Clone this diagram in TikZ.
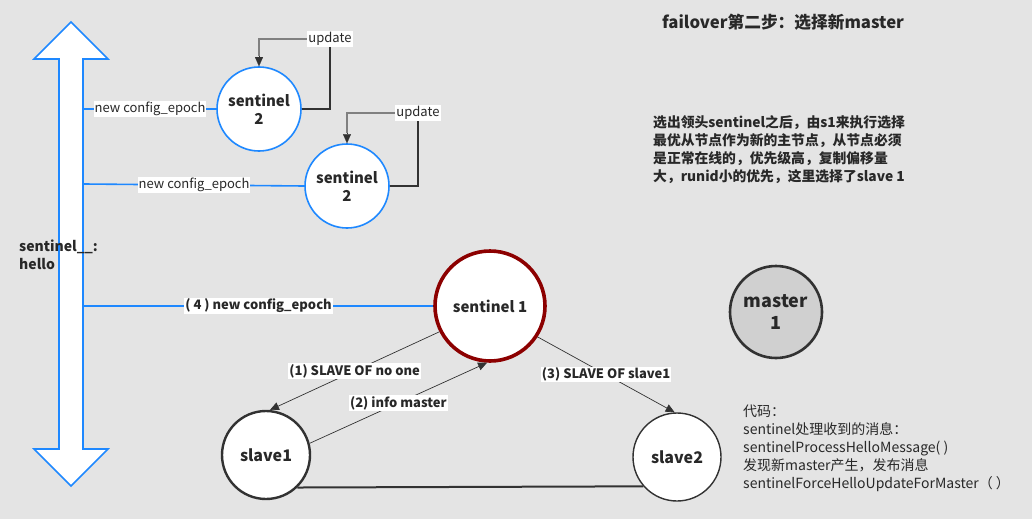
\documentclass[tikz,border=0pt]{standalone}
\usepackage{fontspec}
\setmainfont{Noto Sans CJK SC}
\usetikzlibrary{arrows.meta}
\definecolor{bg}{RGB}{228,228,228}
\definecolor{myblue}{RGB}{30,136,255}
\definecolor{dred}{RGB}{140,0,0}
\definecolor{txt}{RGB}{40,40,40}
\definecolor{ln}{RGB}{50,50,50}
\definecolor{mgray}{RGB}{208,208,208}
\tikzset{
  sentwo/.style={circle, draw=myblue, line width=1.6pt, fill=white, minimum size=84pt, inner sep=0pt, align=center, font=\fontsize{15}{18}\selectfont\bfseries, text=txt},
  sentone/.style={circle, draw=dred, line width=3.6pt, fill=white, minimum size=110pt, inner sep=0pt, font=\fontsize{15}{18}\selectfont\bfseries, text=txt},
  slavenode/.style={circle, draw=ln, fill=white, minimum size=88pt, inner sep=0pt, font=\fontsize{16}{19}\selectfont\bfseries, text=txt},
  masternode/.style={circle, draw=ln, line width=2.6pt, fill=mgray, minimum size=92pt, inner sep=0pt, align=center, font=\fontsize{18}{22}\selectfont\bfseries, text=txt},
  bluelink/.style={draw=myblue, line width=1.6pt},
  bluelabel/.style={fill=white, inner sep=1pt, text=txt, font=\fontsize{13}{15}\selectfont},
  edgelabel/.style={fill=white, inner sep=1pt, text=txt, font=\fontsize{13}{15}\selectfont\bfseries},
  arr/.style={draw=ln, line width=0.7pt, -{Triangle[length=9pt,width=8pt]}},
  updlabel/.style={fill=white, inner sep=1pt, text=txt, font=\fontsize{13}{15}\selectfont},
}
\begin{document}
\begin{tikzpicture}[x=1pt,y=-1pt]
\fill[bg] (0,0) rectangle (1032,519);
\useasboundingbox (0,0) rectangle (1032,519);

% big double arrow
\draw[myblue, line width=1.6pt, fill=white, line join=miter]
  (71,22) -- (108,59) -- (83,59) -- (83,449) -- (108,449) -- (71,486)
  -- (34,449) -- (59,449) -- (59,59) -- (34,59) -- cycle;
\coordinate (shaft) at (84,0);

% nodes
\node[sentwo] (s2a) at (259,109) {sentinel\\2};
\node[sentwo] (s2b) at (347,186) {sentinel\\2};
\node[sentone] (s1) at (490,306) {sentinel 1};
\node[masternode] (m1) at (776,312) {master\\1};
\node[slavenode, line width=2.4pt] (sl1) at (266,455) {slave1};
\node[slavenode, line width=1.4pt] (sl2) at (677,457) {slave2};

% blue links
\draw[bluelink] (s2a.west) -- (s2a.west -| shaft) node[midway, bluelabel] {new config\_epoch};
\draw[bluelink] (s2b.west) -- ([yshift=2pt]s2b.west -| shaft) node[midway, bluelabel] {new config\_epoch};
\draw[bluelink] (s1.west) -- (s1.west -| shaft) node[midway, edgelabel] {( 4 ) new config\_epoch};

% update loops
\coordinate (ua) at (330,39);
\draw[ln, line width=1.2pt] (s2a.east) -- (s2a.east -| ua) -- (ua);
\draw[gray, line width=1.6pt] (ua) -- (ua -| s2a.north) -- ([yshift=10pt]s2a.north);
\draw[arr, draw=ln, line width=0.1pt] ([yshift=10pt]s2a.north) -- (s2a.north);
\node[updlabel] (upa) at (ua) {update};

\coordinate (ub) at (418,113);
\draw[ln, line width=1.2pt] (s2b.east) -- (s2b.east -| ub) -- (ub);
\draw[gray, line width=1.6pt] (ub) -- (ub -| s2b.north) -- ([yshift=10pt]s2b.north);
\draw[arr, draw=ln, line width=0.1pt] ([yshift=10pt]s2b.north) -- (s2b.north);
\node[updlabel] (upb) at (ub) {update};

% edges
\draw[arr] (s1.207) -- (sl1.85) node[midway, edgelabel] {(1) SLAVE OF no one};
\draw[arr] (sl1.15) -- (s1.267) node[midway, edgelabel] {(2) info master};
\draw[arr] (s1.327) -- (sl2.93) node[midway, edgelabel] {(3) SLAVE OF slave1};
\draw[ln, line width=2pt] (sl1.314) -- (sl2.221);

% texts
\node[anchor=north west, inner sep=0pt, align=left, text=txt, font=\fontsize{14}{18}\selectfont\bfseries] (hello) at (19,240) {sentinel\_\_:\\hello};
\node[anchor=north west, inner sep=0pt, text=txt, font=\fontsize{16.7}{20}\selectfont\bfseries] (title) at (662,14) {failover第二步：选择新master};
\node[anchor=north west, inner sep=0pt, align=left, text=txt, font=\fontsize{13.8}{18}\selectfont\bfseries] (para) at (653,115)
  {选出领头sentinel之后，由s1来执行选择\\最优从节点作为新的主节点，从节点必须\\是正常在线的，优先级高，复制偏移量\\大，runid小的优先，这里选择了slave 1};
\node[anchor=north west, inner sep=0pt, align=left, text=txt, font=\fontsize{14}{17.8}\selectfont] (code) at (743,405)
  {代码：\\sentinel处理收到的消息：\\sentinelProcessHelloMessage( )\\发现新master产生，发布消息\\sentinelForceHelloUpdateForMaster（ ）};
\end{tikzpicture}
\end{document}
